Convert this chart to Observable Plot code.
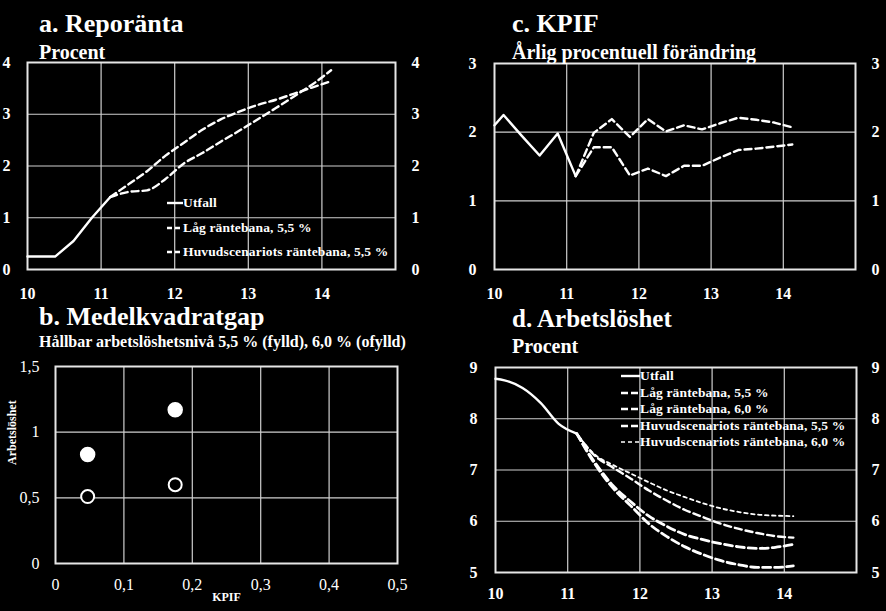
<!DOCTYPE html>
<html><head><meta charset="utf-8">
<script src="https://cdn.jsdelivr.net/npm/d3@7"></script>
<script src="https://cdn.jsdelivr.net/npm/@observablehq/plot@0.6"></script>
<style>
body{margin:0;background:#000;}
#root{position:relative;width:886px;height:611px;background:#000;overflow:hidden;font-family:"Liberation Serif","Times New Roman",serif;color:#fff;}
.t{position:absolute;white-space:nowrap;font-weight:bold;line-height:1;z-index:3;}
.p{position:absolute;z-index:1;}
.p svg{display:block;}
.leg{position:absolute;font-weight:bold;font-size:13.5px;line-height:1;white-space:nowrap;display:flex;align-items:flex-start;z-index:3;letter-spacing:0.15px;}
.leg svg{display:block;}
</style></head><body><div id="root"></div>
<script>
// ---------- data ----------
const titles = ["a. Reporänta", "b. Medelkvadratgap", "c. KPIF", "d. Arbetslöshet"];
const subtitles = ["Procent", "Hållbar arbetslöshetsnivå 5,5 % (fylld), 6,0 % (ofylld)", "Årlig procentuell förändring", "Procent"];

const yearTicks = [10, 11, 12, 13, 14];
const forecastX = [11.125, 11.375, 11.625, 11.875, 12.125, 12.375, 12.625, 12.875, 13.125, 13.375, 13.625, 13.875, 14.125];

// a. Reporänta
const aUtfallX = [10.0, 10.125, 10.375, 10.625, 10.875, 11.125];
const aUtfallY = [0.25, 0.25, 0.25, 0.55, 1.0, 1.4];
const aLag55 = [1.4, 1.5, 1.53, 1.75, 2.05, 2.25, 2.47, 2.68, 2.9, 3.12, 3.35, 3.58, 3.85];
const aHuvud55 = [1.4, 1.65, 1.9, 2.2, 2.45, 2.7, 2.9, 3.05, 3.18, 3.28, 3.4, 3.52, 3.64];
const aTicksY = [0, 1, 2, 3, 4];
const aLegend = ["Utfall", "Låg räntebana, 5,5 %", "Huvudscenariots räntebana, 5,5 %"];

// c. KPIF
const cUtfallX = [10.0, 10.125, 10.375, 10.625, 10.875, 11.125];
const cUtfallY = [2.1, 2.25, 1.95, 1.66, 1.98, 1.36];
const cUpper = [1.36, 1.99, 2.19, 1.93, 2.19, 2.01, 2.1, 2.04, 2.13, 2.21, 2.18, 2.14, 2.07];
const cLower = [1.36, 1.78, 1.78, 1.37, 1.47, 1.36, 1.51, 1.51, 1.63, 1.74, 1.76, 1.79, 1.82];
const cTicksY = [0, 1, 2, 3];

// b. Medelkvadratgap
const bKpif = [0.047, 0.175];
const bFilled = [0.83, 1.17];   // 5,5 %
const bOpen = [0.51, 0.60];     // 6,0 %
const bTicksX = [0, 0.1, 0.2, 0.3, 0.4, 0.5];
const bTicksY = [0, 0.5, 1, 1.5];
const bAxisX = "KPIF";
const bAxisY = "Arbetslöshet";

// d. Arbetslöshet
const dUtfallX = [10.0, 10.125, 10.375, 10.625, 10.875, 11.125];
const dUtfallY = [8.78, 8.75, 8.6, 8.31, 7.9, 7.71];
const dLag55 = [7.71, 7.12, 6.65, 6.3, 5.95, 5.7, 5.5, 5.35, 5.23, 5.15, 5.1, 5.1, 5.13];
const dLag60 = [7.71, 7.15, 6.7, 6.38, 6.1, 5.9, 5.74, 5.64, 5.56, 5.5, 5.47, 5.49, 5.55];
const dHuvud55 = [7.71, 7.28, 7.05, 6.83, 6.6, 6.4, 6.22, 6.08, 5.95, 5.85, 5.77, 5.71, 5.68];
const dHuvud60 = [7.71, 7.3, 7.1, 6.93, 6.76, 6.6, 6.47, 6.35, 6.25, 6.18, 6.13, 6.11, 6.1];
const dTicksY = [5, 6, 7, 8, 9];
const dLegend = ["Utfall", "Låg räntebana, 5,5 %", "Låg räntebana, 6,0 %", "Huvudscenariots räntebana, 5,5 %", "Huvudscenariots räntebana, 6,0 %"];

// ---------- helpers ----------
const root = document.getElementById("root");
const pts = (xs, ys) => xs.map((x, i) => ({x, y: ys[i]}));
const GRID = "#cfcfcf", FRAME = "#e6e6e6", FONT = "Liberation Serif";
const style = {background: "transparent", color: "white", fontFamily: FONT, fontSize: "16px", overflow: "visible"};
const comma = d => String(d).replace(".", ",");

function place(el, left, top) {
  const d = document.createElement("div");
  d.className = "p"; d.style.left = left + "px"; d.style.top = top + "px";
  d.appendChild(el); root.appendChild(d);
}
function text(str, cls, left, top, size) {
  const d = document.createElement("div");
  d.className = cls; d.textContent = str;
  d.style.left = left + "px"; d.style.top = top + "px"; d.style.fontSize = size + "px";
  root.appendChild(d);
}
function legend(labels, dashes, widths, left, tops, swW) {
  labels.forEach((lab, i) => {
    const d = document.createElement("div");
    d.className = "leg"; d.style.left = left + "px"; d.style.top = tops[i] + "px";
    const ns = "http://www.w3.org/2000/svg";
    const s = document.createElementNS(ns, "svg");
    s.setAttribute("width", swW); s.setAttribute("height", 14);
    const l = document.createElementNS(ns, "line");
    l.setAttribute("x1", 0); l.setAttribute("x2", swW); l.setAttribute("y1", 7); l.setAttribute("y2", 7);
    l.setAttribute("stroke", "white"); l.setAttribute("stroke-width", widths[i]);
    if (dashes[i]) l.setAttribute("stroke-dasharray", dashes[i]);
    s.appendChild(l); d.appendChild(s);
    const sp = document.createElement("span"); sp.textContent = lab; d.appendChild(sp);
    root.appendChild(d);
  });
}
const yearAxes = (yt, padX, padL, padR) => [
  Plot.axisX(yearTicks, {tickSize: 0, tickPadding: padX, fontSize: 16, fontWeight: "bold", tickFormat: d => d, label: null}),
  Plot.axisY(yt, {anchor: "left", tickSize: 0, tickPadding: padL, fontSize: 16, fontWeight: "bold", tickFormat: d => d, label: null}),
  Plot.axisY(yt, {anchor: "right", tickSize: 0, tickPadding: padR, fontSize: 16, fontWeight: "bold", tickFormat: d => d, label: null})
];

// ---------- titles ----------
text(titles[0], "t", 39, 11, 26);
text(subtitles[0], "t", 39, 41.5, 20);
text(titles[2], "t", 512, 11, 26);
text(subtitles[2], "t", 512, 41.5, 20);
text(titles[1], "t", 39, 304, 26);
text(subtitles[1], "t", 39, 333.5, 16);
text(titles[3], "t", 512, 306, 25);
text(subtitles[3], "t", 512, 336, 20);

// ---------- a ----------
const aPlot = Plot.plot({
  width: 443, height: 255, marginLeft: 27, marginRight: 48, marginTop: 12, marginBottom: 36,
  x: {domain: [10, 15], label: null}, y: {domain: [0, 4], label: null}, style,
  marks: [
    Plot.gridX([11, 12, 13, 14], {stroke: GRID, strokeOpacity: 1, strokeWidth: 1.2}),
    Plot.gridY([1, 2, 3], {stroke: GRID, strokeOpacity: 1, strokeWidth: 1.2}),
    Plot.frame({stroke: FRAME, strokeWidth: 2}),
    ...yearAxes(aTicksY, 18, 17, 16),
    Plot.line(pts(aUtfallX, aUtfallY), {x: "x", y: "y", stroke: "white", strokeWidth: 2.4}),
    Plot.line(pts(forecastX, aLag55), {x: "x", y: "y", stroke: "white", strokeWidth: 2.4, strokeDasharray: "7,4", curve: "monotone-x"}),
    Plot.line(pts(forecastX, aHuvud55), {x: "x", y: "y", stroke: "white", strokeWidth: 2.4, strokeDasharray: "7,4", curve: "monotone-x"})
  ]
});
place(aPlot, 0, 50);
legend(aLegend, [null, "5,3", "5,3"], [2.4, 2.4, 2.4], 167, [196, 221, 245], 16);

// ---------- c ----------
const cPlot = Plot.plot({
  width: 443, height: 255, marginLeft: 51, marginRight: 31, marginTop: 13, marginBottom: 36,
  x: {domain: [10, 15], label: null}, y: {domain: [0, 3], label: null}, style,
  marks: [
    Plot.gridX([11, 12, 13, 14], {stroke: GRID, strokeOpacity: 1, strokeWidth: 1.2}),
    Plot.gridY([1, 2], {stroke: GRID, strokeOpacity: 1, strokeWidth: 1.2}),
    Plot.frame({stroke: FRAME, strokeWidth: 2}),
    ...yearAxes(cTicksY, 18, 18, 16),
    Plot.line(pts(cUtfallX, cUtfallY), {x: "x", y: "y", stroke: "white", strokeWidth: 2.4}),
    Plot.line(pts(forecastX, cUpper), {x: "x", y: "y", stroke: "white", strokeWidth: 2.4, strokeDasharray: "7,4"}),
    Plot.line(pts(forecastX, cLower), {x: "x", y: "y", stroke: "white", strokeWidth: 2.4, strokeDasharray: "7,4"})
  ]
});
place(cPlot, 443, 50);

// ---------- b ----------
const bPlot = Plot.plot({
  width: 443, height: 256, marginLeft: 55, marginRight: 46, marginTop: 11, marginBottom: 48,
  x: {domain: [0, 0.5], label: null}, y: {domain: [0, 1.5], label: null}, style,
  marks: [
    Plot.gridX([0.1, 0.2, 0.3, 0.4], {stroke: GRID, strokeOpacity: 1, strokeWidth: 1.2}),
    Plot.gridY([0.5, 1], {stroke: GRID, strokeOpacity: 1, strokeWidth: 1.2}),
    Plot.frame({stroke: FRAME, strokeWidth: 2}),
    Plot.axisX(bTicksX, {tickSize: 0, tickPadding: 15, fontSize: 16, tickFormat: comma, label: null}),
    Plot.axisY(bTicksY, {anchor: "left", tickSize: 0, tickPadding: 16, fontSize: 16, tickFormat: comma, label: null}),
    Plot.text([bAxisX], {text: d => d, frameAnchor: "bottom", dy: 37, fontSize: 12, fontWeight: "bold", fill: "white"}),
    Plot.text([bAxisY], {text: d => d, frameAnchor: "left", dx: -43, rotate: -90, fontSize: 12, fontWeight: "bold", fill: "white"}),
    Plot.dot(pts(bKpif, bFilled), {x: "x", y: "y", r: 7, fill: "white", stroke: "white"}),
    Plot.dot(pts(bKpif, bOpen), {x: "x", y: "y", r: 6.5, fill: "black", stroke: "white", strokeWidth: 2})
  ]
});
place(bPlot, 0, 355);

// ---------- d ----------
const dPlot = Plot.plot({
  width: 443, height: 256, marginLeft: 52, marginRight: 30, marginTop: 12, marginBottom: 39,
  x: {domain: [10, 15], label: null}, y: {domain: [5, 9], label: null}, style,
  marks: [
    Plot.gridX([11, 12, 13, 14], {stroke: GRID, strokeOpacity: 1, strokeWidth: 1.2}),
    Plot.gridY([6, 7, 8], {stroke: GRID, strokeOpacity: 1, strokeWidth: 1.2}),
    Plot.frame({stroke: FRAME, strokeWidth: 2}),
    ...yearAxes(dTicksY, 15, 18, 15),
    Plot.line(pts(dUtfallX, dUtfallY), {x: "x", y: "y", stroke: "white", strokeWidth: 2.4, curve: "monotone-x"}),
    Plot.line(pts(forecastX, dHuvud60), {x: "x", y: "y", stroke: "white", strokeWidth: 1.8, strokeDasharray: "3.5,3.5", curve: "monotone-x"}),
    Plot.line(pts(forecastX, dHuvud55), {x: "x", y: "y", stroke: "white", strokeWidth: 2.4, strokeDasharray: "7,4", curve: "monotone-x"}),
    Plot.line(pts(forecastX, dLag60), {x: "x", y: "y", stroke: "white", strokeWidth: 2.8, strokeDasharray: "8,4", curve: "monotone-x"}),
    Plot.line(pts(forecastX, dLag55), {x: "x", y: "y", stroke: "white", strokeWidth: 2.8, strokeDasharray: "8,4", curve: "monotone-x"})
  ]
});
place(dPlot, 443, 355);
legend(dLegend, [null, "7,3", "7,3", "7,3", "4,3"], [2.4, 2.6, 2.6, 2.4, 1.6], 621, [369, 386, 402, 419, 435], 19);
</script></body></html>
